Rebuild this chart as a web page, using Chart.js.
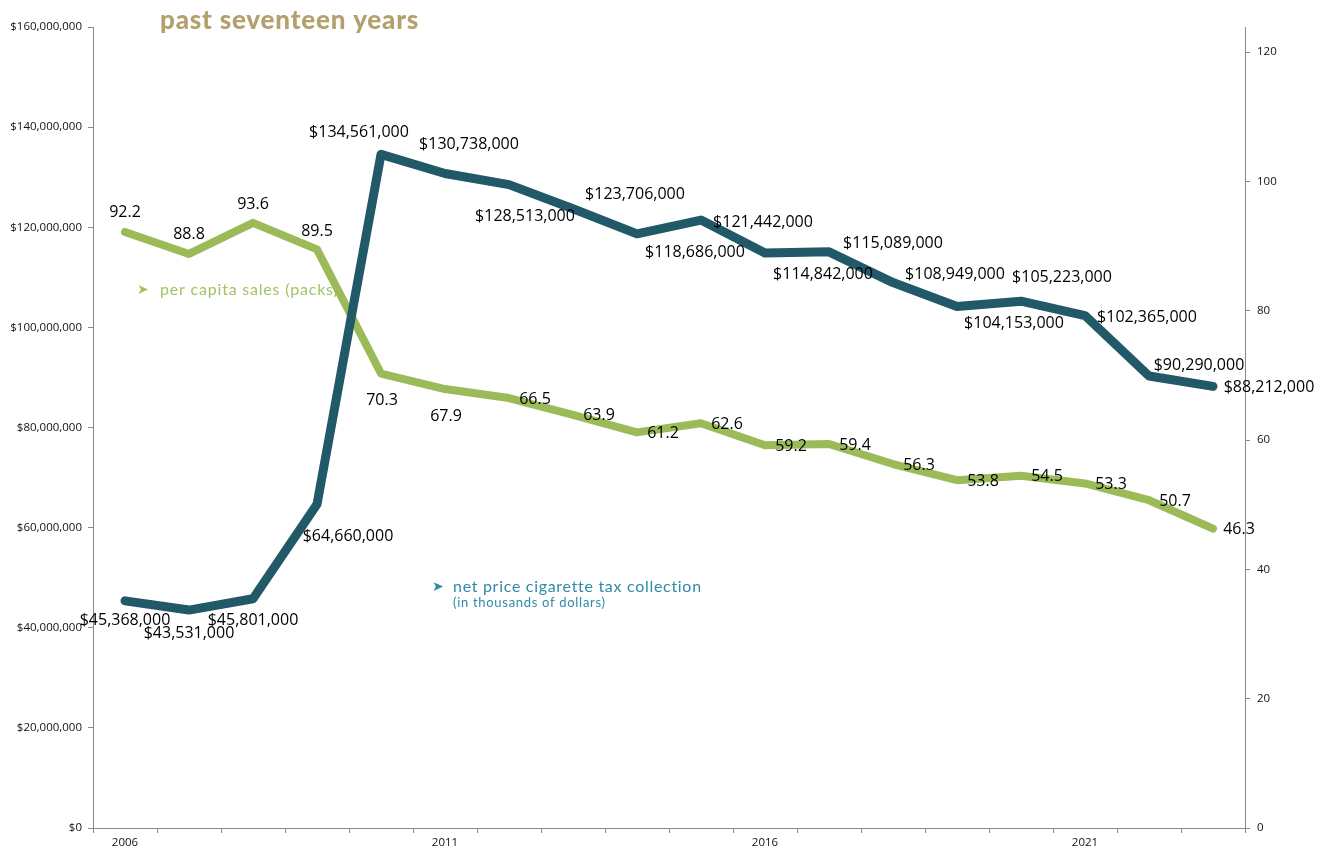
<!DOCTYPE html>
<html>
<head>
<meta charset="utf-8">
<script src="https://cdn.jsdelivr.net/npm/chart.js@4.4.1/dist/chart.umd.min.js"></script>
<style>
  html, body { margin: 0; padding: 0; background: #fff; }
  #wrap { position: relative; width: 1328px; height: 854px; }
</style>
</head>
<body>
<div id="wrap"><canvas id="chart" width="1328" height="854"></canvas></div>
<script>
// years along the bottom
var years = ['2006', '2007', '2008', '2009', '2010', '2011', '2012', '2013', '2014',
             '2015', '2016', '2017', '2018', '2019', '2020', '2021', '2022', '2023'];

// net price cigarette tax collection (dollars, left axis)
var taxCollection = [45368000, 43531000, 45801000, 64660000, 134561000, 130738000,
                     128513000, 123706000, 118686000, 121442000, 114842000, 115089000,
                     108949000, 104153000, 105223000, 102365000, 90290000, 88212000];

// per capita sales in packs (right axis)
var perCapitaPacks = [92.2, 88.8, 93.6, 89.5, 70.3, 67.9, 66.5, 63.9, 61.2,
                      62.6, 59.2, 59.4, 56.3, 53.8, 54.5, 53.3, 50.7, 46.3];

// axis ranges
var leftMax = 160000000, leftStep = 20000000;
var rightMax = 123.9, rightStep = 20;

// where each value label sits relative to its point (dx, dy in px)
var taxLabelOffsets = [[0, 20], [0, 23], [0, 22], [31, 32], [-22, -22], [24, -29],
                       [16, 32], [62, -14], [58, 19], [62, 2], [58, 21], [64, -8],
                       [62, -8], [57, 17], [41, -24], [62, 2], [50, -11], [56, 1]];
var packLabelOffsets = [[0, -19], [0, -19], [0, -18], [0, -18], [1, 27], [1, 27],
                        [26, 1], [26, 1], [26, 1], [26, 1], [26, 1], [26, 1],
                        [26, 1], [26, 1], [26, 1], [26, 1], [26, 1], [26, 1]];

var BLUE = '#215968', GREEN = '#9bbb59', AXIS = '#888888';

function money(v) {
    return '$' + Math.round(v).toLocaleString('en-US');
}

// free text drawn behind the lines
var annotations = {
    id: 'annotations',
    beforeDatasetsDraw: function (chart) {
        var ctx = chart.ctx;
        ctx.save();
        ctx.textBaseline = 'alphabetic';
        ctx.textAlign = 'left';

        ctx.fillStyle = '#b4a06c';
        ctx.font = '900 26px Lato';
        ctx.letterSpacing = '0.8px';
        ctx.fillText('past seventeen years', 160, 29);

        ctx.fillStyle = '#a4c262';
        ctx.letterSpacing = '0px';
        ctx.font = '14px "DejaVu Sans"';
        ctx.fillText('\u27A4', 137, 294);
        ctx.font = '16px Lato';
        ctx.letterSpacing = '0.8px';
        ctx.fillText('per capita sales (packs)', 160, 295);

        ctx.fillStyle = '#3189a8';
        ctx.letterSpacing = '0px';
        ctx.font = '14px "DejaVu Sans"';
        ctx.fillText('\u27A4', 432, 591);
        ctx.font = '16px Lato';
        ctx.letterSpacing = '0.7px';
        ctx.fillText('net price cigarette tax collection', 453, 592);
        ctx.font = '13px Lato';
        ctx.letterSpacing = '0.7px';
        ctx.fillText('(in thousands of dollars)', 453, 607);
        ctx.restore();
    }
};

// value labels next to every point
var valueLabels = {
    id: 'valueLabels',
    afterDatasetsDraw: function (chart) {
        var ctx = chart.ctx;
        ctx.save();
        ctx.font = '16px "Open Sans"';
        ctx.fillStyle = '#000';
        ctx.textAlign = 'center';
        ctx.textBaseline = 'middle';
        var sets = [[0, taxLabelOffsets, money], [1, packLabelOffsets, function (v) { return v.toFixed(1); }]];
        sets.forEach(function (s) {
            var meta = chart.getDatasetMeta(s[0]);
            var data = chart.data.datasets[s[0]].data;
            meta.data.forEach(function (pt, i) {
                var off = s[1][i];
                ctx.fillText(s[2](data[i]), pt.x + off[0], pt.y + off[1]);
            });
        });
        ctx.restore();
    }
};

new Chart(document.getElementById('chart'), {
    type: 'line',
    data: {
        labels: years,
        datasets: [
            {
                label: 'net price cigarette tax collection',
                data: taxCollection,
                yAxisID: 'y',
                borderColor: BLUE,
                borderWidth: 9,
                borderCapStyle: 'round',
                borderJoinStyle: 'round',
                pointRadius: 0,
                tension: 0
            },
            {
                label: 'per capita sales (packs)',
                data: perCapitaPacks,
                yAxisID: 'y2',
                borderColor: GREEN,
                borderWidth: 8,
                borderCapStyle: 'round',
                borderJoinStyle: 'round',
                pointRadius: 0,
                tension: 0
            }
        ]
    },
    options: {
        responsive: false,
        animation: false,
        layout: {padding: {top: 27, left: 0, right: 0, bottom: 0}},
        plugins: {legend: {display: false}, tooltip: {enabled: false}},
        scales: {
            x: {
                offset: true,
                afterFit: function (s) { s.height = 26; },
                border: {color: AXIS, width: 1},
                grid: {offset: true, drawOnChartArea: false, tickLength: 5, color: AXIS},
                ticks: {
                    autoSkip: false, maxRotation: 0, padding: 3,
                    color: '#111', font: {family: 'Open Sans', size: 11.5},
                    callback: function (v, i) { return (i % 5 === 0) ? years[i] : ''; }
                }
            },
            y: {
                position: 'left',
                min: 0, max: leftMax,
                afterFit: function (s) { s.width = 93; },
                border: {color: AXIS, width: 1},
                grid: {drawOnChartArea: false, tickLength: 5, color: AXIS},
                ticks: {
                    stepSize: leftStep, padding: 6,
                    color: '#111', font: {family: 'Open Sans', size: 11.5},
                    callback: function (v) { return money(v); }
                }
            },
            y2: {
                position: 'right',
                min: 0, max: rightMax,
                afterFit: function (s) { s.width = 83; },
                border: {color: AXIS, width: 1},
                grid: {drawOnChartArea: false, tickLength: 5, color: AXIS},
                ticks: {
                    stepSize: rightStep, includeBounds: false, padding: 7,
                    color: '#111', font: {family: 'Open Sans', size: 11.5}
                }
            }
        }
    },
    plugins: [annotations, valueLabels]
});
</script>
</body>
</html>
